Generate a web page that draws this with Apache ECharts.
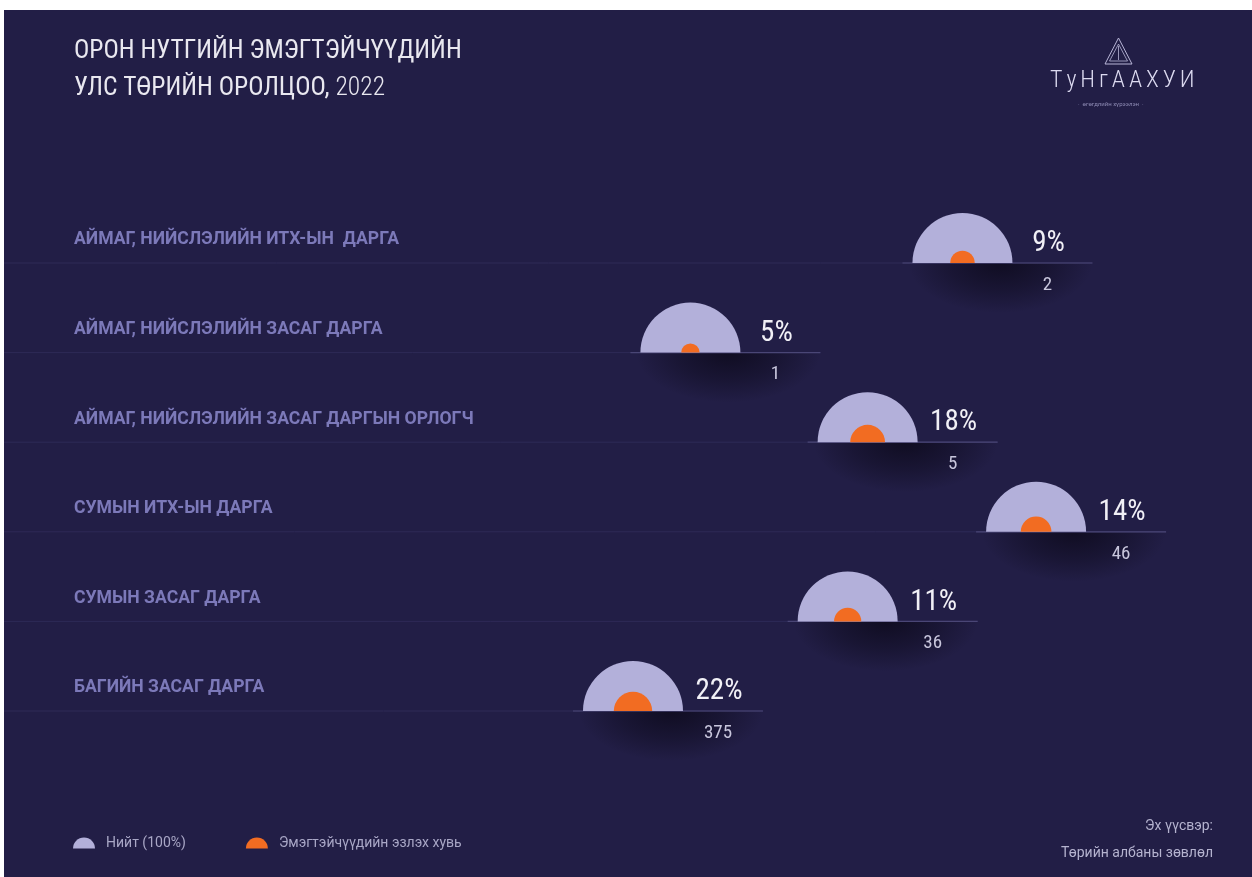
<!DOCTYPE html>
<html>
<head>
<meta charset="utf-8">
<script src="https://cdn.jsdelivr.net/npm/echarts@6/dist/echarts.min.js"></script>
<style>
  html, body { margin: 0; padding: 0; background: #ffffff; }
  #main { position: absolute; left: 4px; top: 10px; width: 1248px; height: 867px; }
</style>
</head>
<body>
<div id="main"></div>
<script>
// албан тушаал
const categories = [
  "АЙМАГ, НИЙСЛЭЛИЙН ИТХ-ЫН  ДАРГА",
  "АЙМАГ, НИЙСЛЭЛИЙН ЗАСАГ ДАРГА",
  "АЙМАГ, НИЙСЛЭЛИЙН ЗАСАГ ДАРГЫН ОРЛОГЧ",
  "СУМЫН ИТХ-ЫН ДАРГА",
  "СУМЫН ЗАСАГ ДАРГА",
  "БАГИЙН ЗАСАГ ДАРГА",
]
const womenPct = [9, 5, 18, 14, 11, 22] // эмэгтэйчүүдийн эзлэх хувь
const womenCount = [2, 1, 5, 46, 36, 375] // тоо
const dotPos = [76.8, 55.0, 69.2, 82.7, 67.6, 50.4] // хагас тойргийн байрлал (0-100)

const R = 50 // нийт хагас тойргийн радиус
const cond = "'Roboto Condensed', 'Roboto', sans-serif"
const reg = "'Roboto', sans-serif"

const chart = echarts.init(document.getElementById("main"))

const seriesData = dotPos.map((p, i) => [p, i, womenPct[i], womenCount[i]])

function renderTotal(params, api) {
  const i = params.dataIndex
  const c = api.coord([api.value(0), api.value(1)])
  const left = api.coord([0, api.value(1)])
  const cx = c[0]
  const cy = c[1]
  return {
    type: "group",
    children: [
      // доод сүүдэр (зууван)
      {
        type: "rect",
        x: cx + 38,
        y: cy,
        scaleX: 1.85,
        shape: { x: -50, y: 0, width: 100, height: 50 },
        style: {
          fill: new echarts.graphic.RadialGradient(0.5, 0, 1, [
            { offset: 0, color: "rgba(14,11,30,0.9)" },
            { offset: 0.55, color: "rgba(14,11,30,0.45)" },
            { offset: 1, color: "rgba(14,11,30,0)" },
          ]),
        },
      },
      // шугам
      {
        type: "line",
        shape: { x1: left[0], y1: cy, x2: cx + 130, y2: cy },
        style: { stroke: "#2e2a57", lineWidth: 1 },
      },
      {
        type: "line",
        shape: { x1: cx - 60, y1: cy, x2: cx + 130, y2: cy },
        style: { stroke: "#4a4676", lineWidth: 1.2 },
      },
      // нийт
      {
        type: "sector",
        shape: { cx: cx, cy: cy, r0: 0, r: R, startAngle: Math.PI, endAngle: Math.PI * 2, clockwise: true },
        style: { fill: api.visual("color") },
      },
      // ангилал
      {
        type: "text",
        x: left[0] + 70,
        y: cy - 23,
        style: {
          text: categories[i],
          fill: "#7c79b9",
          font: "bold 17.6px " + reg,
          verticalAlign: "middle",
          align: "left",
        },
      },
      // хувь
      {
        type: "text",
        x: cx + 86,
        y: cy - 19,
        style: {
          text: api.value(2) + "%",
          fill: "#f1f0f6",
          font: "29px " + cond,
          align: "center",
          verticalAlign: "middle",
        },
      },
      // тоо
      {
        type: "text",
        x: cx + 85,
        y: cy + 22,
        style: {
          text: String(api.value(3)),
          fill: "#c8c6dc",
          font: "19px " + cond,
          align: "center",
          verticalAlign: "middle",
        },
      },
    ],
  }
}

function renderWomen(params, api) {
  const c = api.coord([api.value(0), api.value(1)])
  const r = R * 0.82 * Math.sqrt(api.value(2) / 100)
  return {
    type: "sector",
    shape: { cx: c[0], cy: c[1], r0: 0, r: r, startAngle: Math.PI, endAngle: Math.PI * 2, clockwise: true },
    style: { fill: api.visual("color") },
  }
}

const semi = "path://M0,10 A10,10 0 0 1 20,10 Z"

const option = {
  backgroundColor: "#221e46",
  animation: false,
  grid: { left: 0, right: 0, top: 253, bottom: 166 },
  xAxis: { type: "value", min: 0, max: 100, show: false },
  yAxis: { type: "category", data: categories, inverse: true, boundaryGap: false, show: false },
  legend: {
    left: 69,
    top: 826,
    padding: 0,
    itemWidth: 24,
    itemHeight: 11,
    itemGap: 60,
    textStyle: { color: "#a9a7c6", fontSize: 14, fontFamily: reg, padding: [0, 0, 0, 5] },
    data: [
      { name: "Нийт (100%)", icon: semi },
      { name: "Эмэгтэйчүүдийн эзлэх хувь", icon: semi },
    ],
  },
  graphic: [
    {
      type: "text",
      left: 70,
      top: 29,
      style: { text: "ОРОН НУТГИЙН ЭМЭГТЭЙЧҮҮДИЙН", fill: "#e9e8f0", font: "25.5px " + cond },
    },
    {
      type: "text",
      left: 70,
      top: 66,
      style: {
        text: "{a|УЛС ТӨРИЙН ОРОЛЦОО, }{b|2022}",
        rich: {
          a: { fill: "#e9e8f0", font: "25.5px " + cond },
          b: { fill: "#e9e8f0", font: "300 25.5px " + cond },
        },
      },
    },
    // лого
    {
      type: "polygon",
      shape: { points: [[1114.5, 28], [1101, 54], [1128, 54]] },
      style: { fill: "none", stroke: "#b9b6d8", lineWidth: 1 },
    },
    {
      type: "polygon",
      shape: { points: [[1114.5, 34], [1105.5, 51], [1123.5, 51]] },
      style: { fill: "none", stroke: "#b9b6d8", lineWidth: 0.8 },
    },
    {
      type: "line",
      shape: { x1: 1114.5, y1: 36, x2: 1114.5, y2: 50 },
      style: { stroke: "#b9b6d8", lineWidth: 0.8 },
    },
    {
      type: "text",
      left: 1046,
      top: 59,
      style: { text: "Т\u2006у\u2006Н\u2006г\u2006А\u2006А\u2006Х\u2006У\u2006И", fill: "#dcdaf0", font: "300 24px " + cond },
    },
    {
      type: "text",
      left: 1074,
      top: 91,
      style: { text: "·  өгөгдлийн хүрээлэн  ·", fill: "#8e8bb4", font: "6px " + reg },
    },
    // эх сурвалж
    {
      type: "text",
      right: 39,
      top: 809,
      style: { text: "Эх үүсвэр:", fill: "#b5b3cf", font: "14px " + reg, align: "right" },
    },
    {
      type: "text",
      right: 39,
      top: 836,
      style: { text: "Төрийн албаны зөвлөл", fill: "#b5b3cf", font: "14px " + reg, align: "right" },
    },
  ],
  series: [
    {
      name: "Нийт (100%)",
      type: "custom",
      itemStyle: { color: "#b3b0da" },
      renderItem: renderTotal,
      data: seriesData,
      z: 2,
    },
    {
      name: "Эмэгтэйчүүдийн эзлэх хувь",
      type: "custom",
      itemStyle: { color: "#f26c22" },
      renderItem: renderWomen,
      data: seriesData,
      z: 3,
    },
  ],
}

chart.setOption(option)
</script>
</body>
</html>
